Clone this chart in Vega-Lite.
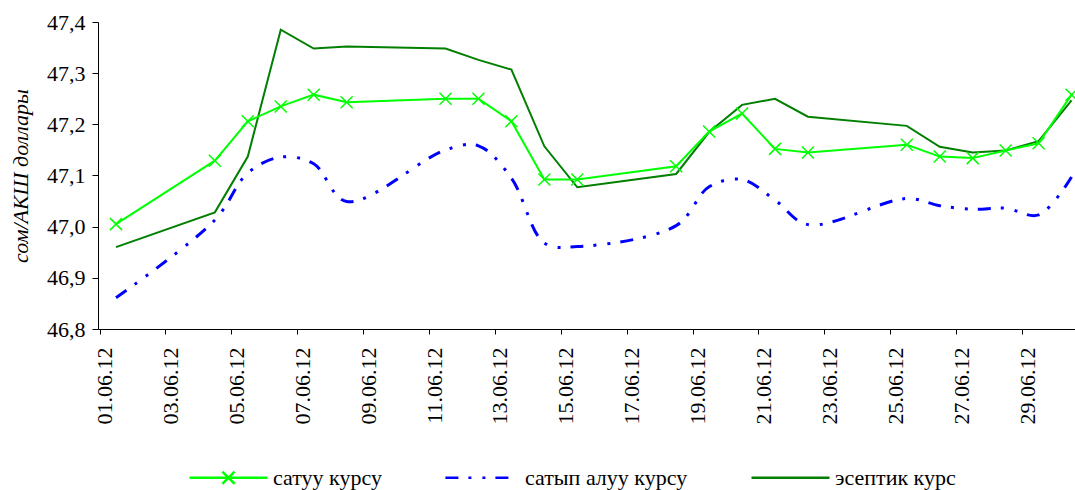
{
  "$schema": "https://vega.github.io/schema/vega-lite/v6.json",
  "width": 977,
  "height": 307,
  "autosize": {"type": "none"},
  "padding": {"left": 98, "top": 22, "right": 0, "bottom": 161},
  "background": "white",
  "config": {
    "font": "Liberation Serif",
    "view": {"stroke": null},
    "locale": {"number": {"decimal": ",", "thousands": " ", "grouping": [3], "currency": ["", ""]}}
  },
  "data": {
    "values": [
      {"date": "2012-06-01", "series": "сатуу курсу", "value": 47.005},
      {"date": "2012-06-04", "series": "сатуу курсу", "value": 47.129},
      {"date": "2012-06-05", "series": "сатуу курсу", "value": 47.206},
      {"date": "2012-06-06", "series": "сатуу курсу", "value": 47.235},
      {"date": "2012-06-07", "series": "сатуу курсу", "value": 47.258},
      {"date": "2012-06-08", "series": "сатуу курсу", "value": 47.243},
      {"date": "2012-06-11", "series": "сатуу курсу", "value": 47.250},
      {"date": "2012-06-12", "series": "сатуу курсу", "value": 47.250},
      {"date": "2012-06-13", "series": "сатуу курсу", "value": 47.206},
      {"date": "2012-06-14", "series": "сатуу курсу", "value": 47.092},
      {"date": "2012-06-15", "series": "сатуу курсу", "value": 47.092},
      {"date": "2012-06-18", "series": "сатуу курсу", "value": 47.118},
      {"date": "2012-06-19", "series": "сатуу курсу", "value": 47.186},
      {"date": "2012-06-20", "series": "сатуу курсу", "value": 47.221},
      {"date": "2012-06-21", "series": "сатуу курсу", "value": 47.152},
      {"date": "2012-06-22", "series": "сатуу курсу", "value": 47.145},
      {"date": "2012-06-25", "series": "сатуу курсу", "value": 47.160},
      {"date": "2012-06-26", "series": "сатуу курсу", "value": 47.137},
      {"date": "2012-06-27", "series": "сатуу курсу", "value": 47.134},
      {"date": "2012-06-28", "series": "сатуу курсу", "value": 47.149},
      {"date": "2012-06-29", "series": "сатуу курсу", "value": 47.163},
      {"date": "2012-06-30", "series": "сатуу курсу", "value": 47.258},
      {"date": "2012-06-01", "series": "сатып алуу курсу", "value": 46.861},
      {"date": "2012-06-04", "series": "сатып алуу курсу", "value": 47.013},
      {"date": "2012-06-05", "series": "сатып алуу курсу", "value": 47.105},
      {"date": "2012-06-06", "series": "сатып алуу курсу", "value": 47.136},
      {"date": "2012-06-07", "series": "сатып алуу курсу", "value": 47.123},
      {"date": "2012-06-08", "series": "сатып алуу курсу", "value": 47.049},
      {"date": "2012-06-11", "series": "сатып алуу курсу", "value": 47.150},
      {"date": "2012-06-12", "series": "сатып алуу курсу", "value": 47.158},
      {"date": "2012-06-13", "series": "сатып алуу курсу", "value": 47.095},
      {"date": "2012-06-14", "series": "сатып алуу курсу", "value": 46.968},
      {"date": "2012-06-15", "series": "сатып алуу курсу", "value": 46.961},
      {"date": "2012-06-18", "series": "сатып алуу курсу", "value": 47.002},
      {"date": "2012-06-19", "series": "сатып алуу курсу", "value": 47.078},
      {"date": "2012-06-20", "series": "сатып алуу курсу", "value": 47.092},
      {"date": "2012-06-21", "series": "сатып алуу курсу", "value": 47.052},
      {"date": "2012-06-22", "series": "сатып алуу курсу", "value": 47.004},
      {"date": "2012-06-25", "series": "сатып алуу курсу", "value": 47.055},
      {"date": "2012-06-26", "series": "сатып алуу курсу", "value": 47.041},
      {"date": "2012-06-27", "series": "сатып алуу курсу", "value": 47.034},
      {"date": "2012-06-28", "series": "сатып алуу курсу", "value": 47.036},
      {"date": "2012-06-29", "series": "сатып алуу курсу", "value": 47.023},
      {"date": "2012-06-30", "series": "сатып алуу курсу", "value": 47.097},
      {"date": "2012-06-01", "series": "эсептик курс", "value": 46.960},
      {"date": "2012-06-04", "series": "эсептик курс", "value": 47.028},
      {"date": "2012-06-05", "series": "эсептик курс", "value": 47.137},
      {"date": "2012-06-06", "series": "эсептик курс", "value": 47.385},
      {"date": "2012-06-07", "series": "эсептик курс", "value": 47.348},
      {"date": "2012-06-08", "series": "эсептик курс", "value": 47.352},
      {"date": "2012-06-11", "series": "эсептик курс", "value": 47.348},
      {"date": "2012-06-12", "series": "эсептик курс", "value": 47.326},
      {"date": "2012-06-13", "series": "эсептик курс", "value": 47.307},
      {"date": "2012-06-14", "series": "эсептик курс", "value": 47.157},
      {"date": "2012-06-15", "series": "эсептик курс", "value": 47.077},
      {"date": "2012-06-18", "series": "эсептик курс", "value": 47.103},
      {"date": "2012-06-19", "series": "эсептик курс", "value": 47.185},
      {"date": "2012-06-20", "series": "эсептик курс", "value": 47.238},
      {"date": "2012-06-21", "series": "эсептик курс", "value": 47.250},
      {"date": "2012-06-22", "series": "эсептик курс", "value": 47.215},
      {"date": "2012-06-25", "series": "эсептик курс", "value": 47.197},
      {"date": "2012-06-26", "series": "эсептик курс", "value": 47.156},
      {"date": "2012-06-27", "series": "эсептик курс", "value": 47.145},
      {"date": "2012-06-28", "series": "эсептик курс", "value": 47.149},
      {"date": "2012-06-29", "series": "эсептик курс", "value": 47.167},
      {"date": "2012-06-30", "series": "эсептик курс", "value": 47.247}
    ]
  },
  "encoding": {
    "x": {
      "field": "date",
      "type": "temporal",
      "title": null,
      "scale": {
        "type": "utc",
        "domain": [
          {"year": 2012, "month": 5, "date": 31, "hours": 10, "minutes": 53, "utc": true},
          {"year": 2012, "month": 6, "date": 30, "hours": 2, "minutes": 31, "utc": true}
        ]
      },
      "axis": {
        "values": [
          {"year": 2012, "month": 6, "date": 1, "utc": true},
          {"year": 2012, "month": 6, "date": 3, "utc": true},
          {"year": 2012, "month": 6, "date": 5, "utc": true},
          {"year": 2012, "month": 6, "date": 7, "utc": true},
          {"year": 2012, "month": 6, "date": 9, "utc": true},
          {"year": 2012, "month": 6, "date": 11, "utc": true},
          {"year": 2012, "month": 6, "date": 13, "utc": true},
          {"year": 2012, "month": 6, "date": 15, "utc": true},
          {"year": 2012, "month": 6, "date": 17, "utc": true},
          {"year": 2012, "month": 6, "date": 19, "utc": true},
          {"year": 2012, "month": 6, "date": 21, "utc": true},
          {"year": 2012, "month": 6, "date": 23, "utc": true},
          {"year": 2012, "month": 6, "date": 25, "utc": true},
          {"year": 2012, "month": 6, "date": 27, "utc": true},
          {"year": 2012, "month": 6, "date": 29, "utc": true}
        ],
        "format": "%d.%m.%y",
        "labelAngle": 270,
        "labelFont": "Times New Roman, Liberation Serif, serif",
        "labelFontSize": 22,
        "labelColor": "#000000",
        "labelPadding": 13,
        "labelOffset": 5,
        "labelOverlap": false,
        "labelFlush": false,
        "tickOffset": -16.5,
        "tickSize": 5,
        "tickColor": "#000000",
        "domainColor": "#000000",
        "grid": false
      }
    },
    "y": {
      "field": "value",
      "type": "quantitative",
      "scale": {"domain": [46.8, 47.4], "zero": false, "nice": false},
      "axis": {
        "title": "сом/АКШ доллары",
        "titleFont": "Times New Roman, Liberation Serif, serif",
        "titleFontStyle": "italic",
        "titleFontWeight": "normal",
        "titleFontSize": 22,
        "titleColor": "#000000",
        "titlePadding": 14,
        "values": [46.8, 46.9, 47.0, 47.1, 47.2, 47.3, 47.4],
        "format": ".1f",
        "labelFont": "Times New Roman, Liberation Serif, serif",
        "labelFontSize": 22,
        "labelColor": "#000000",
        "labelPadding": 7,
        "tickSize": 6,
        "tickColor": "#000000",
        "domainColor": "#000000",
        "grid": false
      }
    },
    "color": {
      "field": "series",
      "type": "nominal",
      "scale": {
        "domain": ["сатуу курсу", "сатып алуу курсу", "эсептик курс"],
        "range": ["#00ff00", "#0000ff", "#007f00"]
      },
      "legend": {
        "title": null,
        "orient": "none",
        "legendX": 90,
        "legendY": 415,
        "direction": "horizontal",
        "labelFont": "Times New Roman, Liberation Serif, serif",
        "labelFontSize": 22,
        "labelColor": "#000000",
        "labelOffset": 4,
        "labelLimit": 400,
        "columnPadding": 58,
        "symbolSize": 6084,
        "symbolStrokeWidth": 2.5,
        "encode": {
          "symbols": {
            "update": {
              "shape": {"signal": "datum.value === 'сатуу курсу' ? 'M-1,0L1,0M-0.155,-0.155L0.155,0.155M-0.155,0.155L0.155,-0.155' : (datum.value === 'сатып алуу курсу' ? 'M-0.9,0L0.9,0' : 'M-1,0L1,0')"},
              "strokeDash": {"signal": "datum.value === 'сатып алуу курсу' ? [13,10,3,11,3,10] : [1,0]"},
              "size": {"value": 6084},
              "strokeWidth": {"value": 2.5},
              "stroke": {"scale": "color", "field": "value"},
              "fill": {"value": "transparent"},
              "opacity": {"value": 1}
            }
          }
        }
      }
    }
  },
  "layer": [
    {
      "transform": [{"filter": "datum.series === 'эсептик курс'"}],
      "mark": {"type": "line", "strokeWidth": 2}
    },
    {
      "transform": [{"filter": "datum.series === 'сатып алуу курсу'"}],
      "mark": {"type": "line", "strokeWidth": 3, "strokeDash": [13, 10, 3, 11, 3, 10], "interpolate": "catmull-rom"}
    },
    {
      "transform": [{"filter": "datum.series === 'сатуу курсу'"}],
      "mark": {"type": "line", "strokeWidth": 2}
    },
    {
      "transform": [{"filter": "datum.series === 'сатуу курсу'"}],
      "mark": {"type": "point", "shape": "M-1,-1L1,1M-1,1L1,-1", "size": 144, "filled": false, "strokeWidth": 1.5, "opacity": 1}
    }
  ]
}
